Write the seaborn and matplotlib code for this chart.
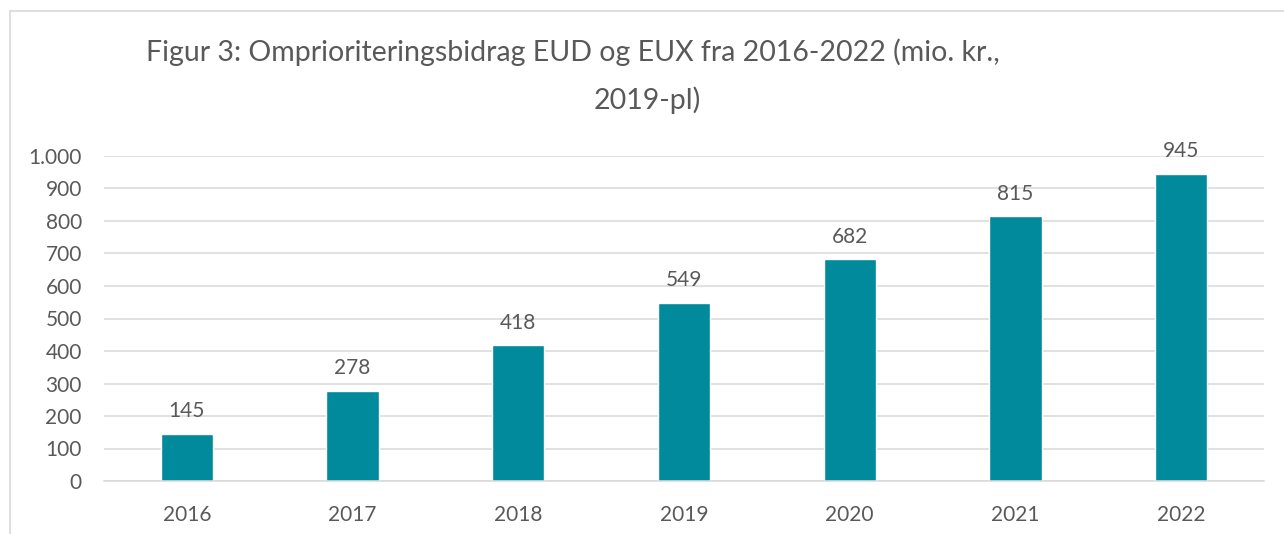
import matplotlib.pyplot as plt
import matplotlib.ticker as mticker
import seaborn as sns
import numpy as np

# Data
years = ["2016", "2017", "2018", "2019", "2020", "2021", "2022"]
values = [145, 278, 418, 549, 682, 815, 945]

title_line1 = "Figur 3: Omprioriteringsbidrag EUD og EUX fra 2016-2022 (mio. kr.,"
title_line2 = "2019-pl)"

bar_color = "#008A9B"
text_color = "#595959"
grid_color = "#D9D9D9"

sns.set_theme(style="white")
plt.rcParams['font.family'] = ['Lato', 'DejaVu Sans']

fig = plt.figure(figsize=(12.84, 5.34), dpi=100)
ax = fig.add_axes([104 / 1284, 1 - 481 / 534, (1264 - 104) / 1284, (481 - 156) / 534])

sns.barplot(x=years, y=values, color=bar_color, width=0.315, saturation=1, ax=ax)

ax.set_ylim(0, 1000)
ax.set_xlim(-0.5, len(years) - 0.5)
ax.yaxis.set_major_locator(mticker.MultipleLocator(100))
ax.yaxis.set_major_formatter(mticker.FuncFormatter(lambda v, p: f"{int(v):,}".replace(",", ".")))
ax.yaxis.grid(True, color=grid_color, linewidth=1.1)
ax.set_axisbelow(True)

for s in ["top", "right", "left"]:
    ax.spines[s].set_visible(False)
ax.spines["bottom"].set_color(grid_color)
ax.spines["bottom"].set_linewidth(1.1)

ax.tick_params(axis="y", length=0, pad=16, labelsize=15, labelcolor=text_color)
ax.tick_params(axis="x", which="major", length=0, pad=17, labelsize=15, labelcolor=text_color)
ax.set_xticks(np.arange(-0.5, len(years), 1.0), minor=True)
ax.tick_params(axis="x", which="minor", length=5, width=1.1, color=grid_color, direction="out")

labels = ax.bar_label(ax.containers[0], padding=9, fontsize=15, color=text_color)

# Title (two lines as in reference)
fig.text(573 / 1284, 1 - 52 / 534, title_line1, ha="center", va="center", fontsize=20.5, color=text_color)
fig.text(647 / 1284, 1 - 100 / 534, title_line2, ha="center", va="center", fontsize=20.5, color=text_color)

# Chart frame (partly cut off at right and bottom)
fig.add_artist(plt.Line2D([9.5 / 1284, 9.5 / 1284], [0, 1 - 11 / 534], color=grid_color, linewidth=1.2))
fig.add_artist(plt.Line2D([9.5 / 1284, 1], [1 - 11 / 534, 1 - 11 / 534], color=grid_color, linewidth=1.2))

plt.savefig("out.png", dpi=100)
